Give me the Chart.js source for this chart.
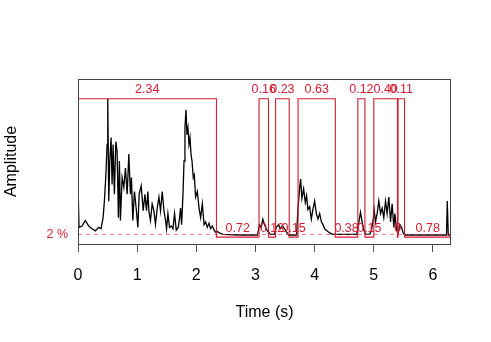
<!DOCTYPE html>
<html>
<head>
<meta charset="utf-8">
<script src="https://cdn.jsdelivr.net/npm/chart.js@4.4.0/dist/chart.umd.min.js"></script>
<style>
html,body{margin:0;padding:0;background:#fff;}
#c{display:block;}
</style>
</head>
<body>
<canvas id="c" width="491" height="342"></canvas>
<script>
// ---- data ----
const envTime = [0.000,0.017,0.068,0.124,0.181,0.237,0.293,0.351,0.390,0.424,0.446,0.469,0.492,0.503,0.520,0.537,0.559,0.576,0.593,0.615,0.639,0.661,0.683,0.700,0.717,0.746,0.775,0.802,0.831,0.859,0.886,0.903,0.927,0.954,0.983,1.012,1.034,1.068,1.102,1.131,1.158,1.181,1.198,1.225,1.254,1.283,1.310,1.339,1.368,1.395,1.424,1.453,1.480,1.497,1.520,1.547,1.576,1.605,1.632,1.661,1.695,1.717,1.734,1.751,1.775,1.792,1.808,1.825,1.842,1.859,1.876,1.893,1.910,1.927,1.949,1.966,1.988,2.017,2.046,2.073,2.102,2.131,2.158,2.186,2.215,2.242,2.271,2.300,2.327,2.356,2.390,2.446,2.730,3.034,3.068,3.097,3.124,3.153,3.181,3.208,3.254,3.322,3.351,3.390,3.419,3.453,3.492,3.520,3.559,3.695,3.717,3.746,3.763,3.785,3.814,3.842,3.864,3.886,3.915,3.944,3.971,4.000,4.029,4.056,4.085,4.114,4.141,4.169,4.198,4.225,4.254,4.305,4.712,4.734,4.775,4.802,4.831,4.864,4.932,4.961,4.988,5.005,5.029,5.056,5.085,5.114,5.141,5.169,5.198,5.225,5.254,5.283,5.310,5.339,5.356,5.385,5.412,5.441,5.469,5.497,5.525,6.229,6.242,6.259,6.305];
const envAmp = [0.40,0.07,0.08,0.12,0.08,0.06,0.045,0.07,0.06,0.14,0.26,0.43,0.67,1.00,0.26,0.55,0.72,0.38,0.67,0.31,0.69,0.62,0.14,0.55,0.12,0.43,0.36,0.50,0.31,0.60,0.31,0.43,0.12,0.33,0.21,0.07,0.31,0.37,0.19,0.31,0.19,0.33,0.19,0.12,0.24,0.19,0.09,0.21,0.29,0.19,0.33,0.19,0.12,0.06,0.17,0.07,0.08,0.06,0.17,0.05,0.07,0.14,0.21,0.09,0.31,0.55,0.79,0.92,0.74,0.79,0.67,0.72,0.60,0.55,0.43,0.45,0.29,0.33,0.21,0.14,0.24,0.09,0.11,0.07,0.10,0.06,0.08,0.05,0.035,0.04,0.03,0.02,0.015,0.015,0.09,0.07,0.13,0.09,0.06,0.04,0.02,0.02,0.07,0.09,0.06,0.08,0.06,0.04,0.015,0.015,0.20,0.35,0.42,0.28,0.35,0.25,0.30,0.20,0.22,0.13,0.20,0.26,0.17,0.13,0.17,0.11,0.09,0.06,0.05,0.04,0.03,0.02,0.02,0.07,0.18,0.11,0.05,0.02,0.02,0.05,0.12,0.20,0.11,0.17,0.26,0.17,0.21,0.14,0.26,0.17,0.29,0.11,0.24,0.07,0.17,0.05,0.03,0.09,0.07,0.03,0.015,0.015,0.26,0.015,0.015];

const soundStart  = [0.00, 3.06, 3.34, 3.72, 4.73, 5.00, 5.41];
const soundEnd    = [2.34, 3.22, 3.57, 4.35, 4.85, 5.40, 5.52];
const soundLabels = ["2.34","0.16","0.23","0.63","0.12","0.40","0.11"];

const silenceStart  = [2.34, 3.22, 3.57, 4.35, 4.85, 5.40, 5.52];
const silenceEnd    = [3.06, 3.34, 3.72, 4.73, 5.00, 5.41, 6.305];
const silenceLabels = ["0.72","0.12","0.15","0.38","0.15","0","0.78"];

const thresholdLevel = 0.02;
const thresholdLabel = "2 %";
const xTicks = [0,1,2,3,4,5,6];
const tEnd = 6.305;

// ---- build datasets ----
const RED = 'rgb(212,28,48)';
const FONT = "'Liberation Sans', Arial, Helvetica, sans-serif";

const envPoints = envTime.map((t,i)=>({x:t, y:envAmp[i]}));
const stepPoints = [];
soundStart.forEach((s,i)=>{
  if (s > 0) stepPoints.push({x:s,y:0});
  stepPoints.push({x:s,y:1},{x:soundEnd[i],y:1},{x:soundEnd[i],y:0});
});
stepPoints.push({x:tEnd,y:0});
const thrPoints = [{x:0,y:thresholdLevel},{x:tEnd,y:thresholdLevel}];

const labelPlugin = {
  id:'segLabels',
  afterDatasetsDraw(chart){
    const {ctx, scales:{x,y}} = chart;
    ctx.save();
    ctx.fillStyle = RED;
    ctx.font = "12.5px " + FONT;
    ctx.textAlign = 'center';
    ctx.textBaseline = 'middle';
    soundLabels.forEach((lab,i)=>{
      const px = x.getPixelForValue((soundStart[i]+soundEnd[i])/2);
      ctx.fillText(lab, px, y.getPixelForValue(1) - 9.5);
    });
    silenceLabels.forEach((lab,i)=>{
      const px = x.getPixelForValue((silenceStart[i]+silenceEnd[i])/2);
      ctx.fillText(lab, px, y.getPixelForValue(0) - 8.5);
    });
    ctx.restore();
  }
};
const boxPlugin = {
  id:'box',
  afterDraw(chart){
    const {ctx, chartArea:a} = chart;
    ctx.save();
    ctx.strokeStyle = '#444';
    ctx.lineWidth = 1;
    ctx.strokeRect(Math.round(a.left)+0.5, Math.round(a.top)+0.5, Math.round(a.right-a.left)-1, Math.round(a.bottom-a.top));
    ctx.restore();
  }
};

new Chart(document.getElementById('c'), {
  type:'line',
  data:{
    datasets:[
      {data:stepPoints, borderColor:RED, borderWidth:1.1, pointRadius:0, tension:0, order:0},
      {data:thrPoints, borderColor:'rgba(220,60,90,0.7)', borderWidth:1, borderDash:[4,4], pointRadius:0, order:1},
      {data:envPoints, borderColor:'#000', borderWidth:1.3, pointRadius:0, tension:0, order:2}
    ]
  },
  options:{
    responsive:false,
    devicePixelRatio:1,
    animation:false,
    layout:{padding:{top:79,right:40,left:0,bottom:0}},
    plugins:{legend:{display:false}, tooltip:{enabled:false}},
    scales:{
      x:{
        type:'linear', min:0, max:tEnd,
        afterBuildTicks(s){ s.ticks = xTicks.map(v=>({value:v})); },
        afterFit(s){ s.height = 98; },
        grid:{display:true, drawOnChartArea:false, drawTicks:true, tickLength:8, color:'#555'},
        border:{display:false},
        ticks:{color:'#000', font:{family:FONT, size:16}, padding:14, maxRotation:0, autoSkip:false},
        title:{display:true, text:'Time (s)', color:'#000', font:{family:FONT, size:16}, padding:{top:0,bottom:20}}
      },
      y:{
        type:'linear', min:-0.05, max:1.143,
        afterBuildTicks(s){ s.ticks = [{value:thresholdLevel}]; },
        afterFit(s){ s.width = 78; },
        grid:{display:false, drawTicks:false},
        border:{display:false},
        ticks:{color:RED, font:{family:FONT, size:12.5}, padding:10, callback:()=>thresholdLabel},
        title:{display:true, text:'Amplitude', color:'#000', font:{family:FONT, size:16}, padding:{top:2,bottom:0}}
      }
    }
  },
  plugins:[labelPlugin, boxPlugin]
});
</script>
</body>
</html>
